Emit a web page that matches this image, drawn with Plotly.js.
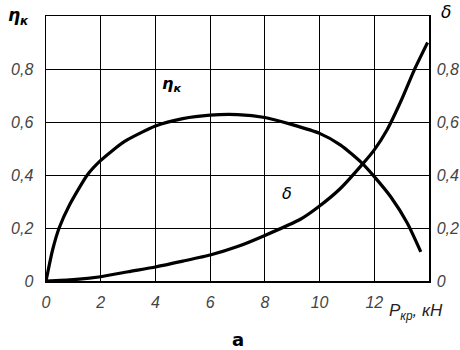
<!DOCTYPE html>
<html><head><meta charset="utf-8">
<script src="https://cdn.plot.ly/plotly-3.0.1.min.js"></script>
<style>body{margin:0;background:#fff}#c{width:460px;height:350px}</style>
</head><body><div id="c"></div>
<script>
const etaX = [0, 0.24, 0.48, 0.85, 1.51, 2, 2.86, 4, 5, 6, 7, 8, 9, 10, 10.77, 11.56, 12, 12.6, 13.21, 13.7];
const etaY = [0, 0.117, 0.2, 0.285, 0.4, 0.455, 0.526, 0.585, 0.613, 0.626, 0.628, 0.617, 0.59, 0.557, 0.513, 0.444, 0.394, 0.318, 0.218, 0.11];
const deltaX = [0, 1, 2, 3, 4, 5, 6, 7, 8, 9.3, 10, 10.77, 11.56, 12, 12.48, 13, 13.46, 13.95];
const deltaY = [0, 0.005, 0.016, 0.035, 0.053, 0.075, 0.098, 0.13, 0.172, 0.233, 0.283, 0.35, 0.44, 0.495, 0.573, 0.685, 0.796, 0.90];
const xTickVals = [0, 2, 4, 6, 8, 10, 12];
const xTickText = ['0', '2', '4', '6', '8', '10', '12'];
const yTickVals = [0, 0.2, 0.4, 0.6, 0.8];
const yTickText = ['0', '0,2', '0,4', '0,6', '0,8'];

const tickFont = {family: 'Liberation Sans', size: 16, color: '#444', style: 'italic'};
const lineStyle = {color: '#000', width: 3.2, shape: 'spline', smoothing: 0.6};

const traces = [
  {x: etaX, y: etaY, mode: 'lines', line: lineStyle, xaxis: 'x', yaxis: 'y', hoverinfo: 'skip'},
  {x: deltaX, y: deltaY, mode: 'lines', line: lineStyle, xaxis: 'x', yaxis: 'y2', hoverinfo: 'skip'}
];

const axisCommon = {
  showgrid: true, gridcolor: '#000', gridwidth: 1,
  showline: true, linecolor: '#000', linewidth: 1.5,
  zeroline: false, ticks: '', tickfont: tickFont, fixedrange: true
};

const layout = {
  width: 460, height: 350,
  margin: {l: 46, r: 31, t: 16, b: 69},
  paper_bgcolor: '#fff', plot_bgcolor: '#fff',
  showlegend: false,
  font: {family: 'DejaVu Sans', color: '#000'},
  xaxis: Object.assign({}, axisCommon, {range: [0, 14], tickvals: xTickVals, ticktext: xTickText, mirror: true, ticklabelstandoff: 6}),
  yaxis: Object.assign({}, axisCommon, {range: [0, 1], tickvals: yTickVals, ticktext: yTickText, mirror: true, ticklabelstandoff: 8}),
  yaxis2: Object.assign({}, axisCommon, {range: [0, 1], tickvals: yTickVals, ticktext: yTickText, overlaying: 'y', side: 'right', showgrid: false, ticklabelstandoff: 3}),
  annotations: [
    {xref: 'paper', yref: 'paper', x: -0.105, y: 1.0, xanchor: 'left', yanchor: 'middle', showarrow: false,
     text: '<b><i>η<sub>к</sub></i></b>', font: {family: 'DejaVu Sans', size: 17, color: '#000'}},
    {xref: 'paper', yref: 'paper', x: 1.0, y: 1.015, xanchor: 'left', yanchor: 'middle', xshift: 10, showarrow: false,
     text: '<i>δ</i>', font: {family: 'DejaVu Sans', size: 17, color: '#000'}},
    {xref: 'x', yref: 'y', x: 4.6, y: 0.74, showarrow: false,
     text: '<b><i>η<sub>к</sub></i></b>', font: {family: 'DejaVu Sans', size: 16, color: '#000'}},
    {xref: 'x', yref: 'y', x: 8.8, y: 0.33, showarrow: false,
     text: '<i>δ</i>', font: {family: 'DejaVu Sans', size: 16, color: '#000'}},
    {xref: 'paper', yref: 'paper', x: 0.89, y: 0, yshift: -31, xanchor: 'left', yanchor: 'middle', showarrow: false,
     text: '<i>P<sub>кр</sub>, кН</i>', font: {family: 'Liberation Sans', size: 17, color: '#222'}},
    {xref: 'paper', yref: 'paper', x: 0.5, y: 0, yshift: -58, xanchor: 'center', yanchor: 'middle', showarrow: false,
     text: '<b>а</b>', font: {family: 'DejaVu Sans', size: 18, color: '#000'}}
  ]
};

Plotly.newPlot('c', traces, layout, {staticPlot: true, displayModeBar: false});
</script>
</body></html>
